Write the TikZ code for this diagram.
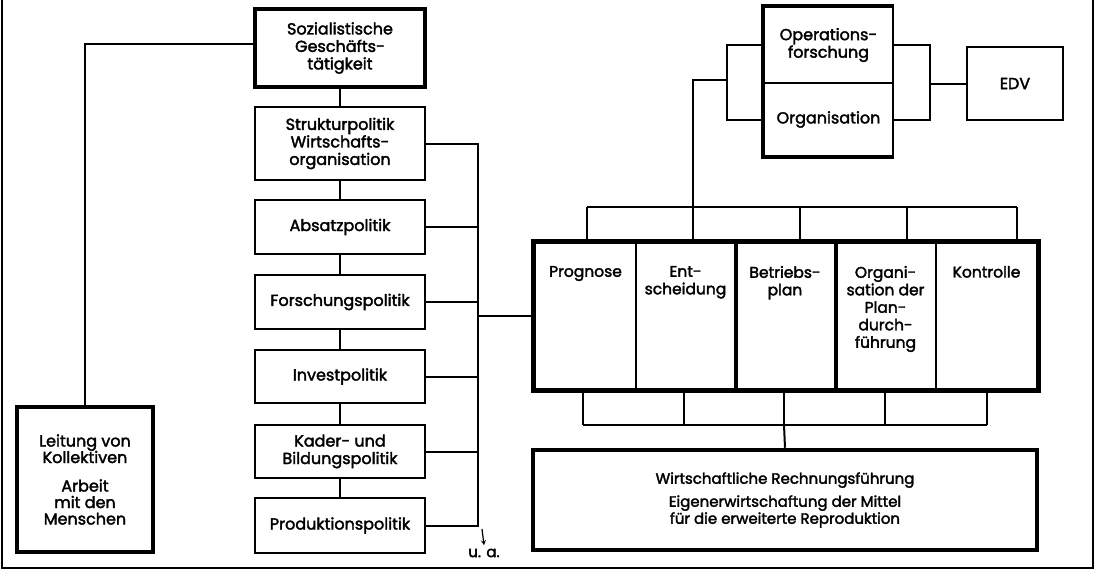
\documentclass[tikz,border=0pt]{standalone}
\usepackage{fontspec}
\setmainfont{Poppins}[FakeBold=2.2]
\usetikzlibrary{calc, positioning, arrows.meta}
\tikzset{>=stealth}
\newcommand{\coltext}[1]{\parbox[t][100pt][t]{96pt}{\centering\fontsize{15.5}{17.5}\selectfont #1}}

\begin{document}
\begin{tikzpicture}[x=1pt, y=-1pt, font=\fontsize{16}{17.5}\selectfont,
  box/.style={draw, line width=2.2pt, align=center, inner sep=0pt},
  heavy/.style={line width=4.5pt},
  link/.style={line width=2pt},
  col/.style={draw, line width=2.6pt, inner sep=0pt, minimum height=146}]
\useasboundingbox (0,0) rectangle (1095,573);
\draw[line width=1.5pt] (2,0) -- (2,568) -- (1093,568) -- (1093,0);

\node[box, heavy, minimum width=170, minimum height=78] (soz) at (340,48) {Sozialistische\\Geschäfts-\\tätigkeit};
\node[box, minimum width=170, minimum height=73] (struk) at (340,143.5) {Strukturpolitik\\Wirtschafts-\\organisation};
\node[box, minimum width=170, minimum height=54] (absatz) at (340,227) {Absatzpolitik};
\node[box, minimum width=170, minimum height=54] (forsch) at (340,302) {Forschungspolitik};
\node[box, minimum width=170, minimum height=53] (invest) at (340,376.5) {Investpolitik};
\node[box, minimum width=170, minimum height=53] (kader) at (340,451.5) {Kader- und\\Bildungspolitik};
\node[box, minimum width=170, minimum height=55] (prod) at (340,525.5) {Produktionspolitik};
\node[box, heavy, minimum width=136, minimum height=145, font=\fontsize{16}{16.5}\selectfont] (leit) at (85,479.5) {Leitung von\\Kollektiven\\[12pt]Arbeit\\mit den\\Menschen};

\draw[link] ([yshift=4pt]soz.west) -| (leit.north);
\draw[link] (soz.south) -- (struk.north);
\draw[link] (struk.south) -- (absatz.north);
\draw[link] (absatz.south) -- (forsch.north);
\draw[link] (forsch.south) -- (invest.north);
\draw[link] (invest.south) -- (kader.north);
\draw[link] (kader.south) -- (prod.north);

\coordinate (bus) at (478,0);
\draw[link] (struk.east) -- (struk.east -| bus) -- (prod.east -| bus) -- (prod.east);
\foreach \n in {absatz, forsch, invest, kader}
  \draw[link] (\n.east) -- (\n.east -| bus);
\node[font=\fontsize{15}{16}\selectfont] (ua) at (484,553) {u. a.};
\draw[->, line width=1.2pt] (482,529) -- (ua.north);

\node[col, minimum width=101] (prog) at (585.5,316) {\coltext{Prognose}};
\node[col, minimum width=99] (ent) at (685.5,316) {\coltext{Ent-\\scheidung}};
\node[col, minimum width=100] (betr) at (785,316) {\coltext{Betriebs-\\plan}};
\node[col, minimum width=101] (orga) at (885.5,316) {\coltext{Organi-\\sation der\\Plan-\\durch-\\führung}};
\node[col, minimum width=101] (kontr) at (986.5,316) {\coltext{Kontrolle}};
\draw[heavy] (prog.north west) rectangle (kontr.south east);
\draw[line width=4pt] (ent.north east) -- (ent.south east);
\draw[line width=4pt] (betr.north east) -- (betr.south east);
\draw[link] (prog.west -| bus) -- (prog.west);

\node[box, minimum width=129, minimum height=76] (ops) at (828.5,45) {Operations-\\forschung};
\node[box, minimum width=129, minimum height=73] (org) at (828.5,119.5) {Organisation};
\draw[heavy] (ops.north east) -- (ops.north west) -- (org.south west) -- (org.south east);
\node[box, minimum width=96, minimum height=73] (edv) at (1015,83.5) {EDV};

\draw[link] (587,207) -- (1017,207);
\foreach \x in {587,693,800,907,1017}
  \draw[link] (\x,207) -- (\x,207 |- prog.north);
\draw[link] (693,207) -- (693,80) -- (727,80);
\draw[link] (ops.west) -| (727,80) |- (org.west);
\draw[link] (ops.east) -| (930,83.5) |- (org.east);
\draw[link] (930,83.5) -- (edv.west);

\node[box, heavy, minimum width=504, minimum height=100, font=\fontsize{15}{17}\selectfont] (rech) at (785,500) {Wirtschaftliche Rechnungsführung\\[6pt]Eigenerwirtschaftung der Mittel\\für die erweiterte Reproduktion};
\draw[link] (583,425) -- (987,425);
\foreach \x in {583,684,784,885,987}
  \draw[link] (\x,425) -- (\x,425 |- prog.south);
\draw[link] (784,425) -- (rech.north);
\end{tikzpicture}
\end{document}
